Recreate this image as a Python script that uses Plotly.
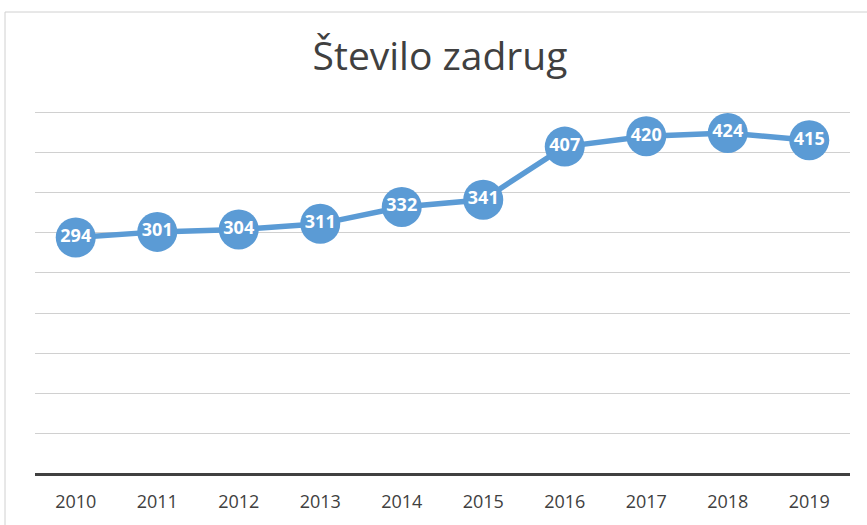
import plotly.graph_objects as go

years = ["2010", "2011", "2012", "2013", "2014", "2015", "2016", "2017", "2018", "2019"]
counts = [294, 301, 304, 311, 332, 341, 407, 420, 424, 415]
title_text = "Število zadrug"

blue = "#5B9BD5"
dark = "#404040"

fig = go.Figure()
fig.add_trace(go.Scatter(
    x=years, y=counts,
    mode="lines+markers+text",
    line=dict(color=blue, width=5.5),
    marker=dict(color=blue, size=40, line=dict(width=0)),
    text=[str(v) for v in counts],
    textposition="middle center",
    textfont=dict(family="Open Sans", size=18, color="white", weight="bold"),
    cliponaxis=False,
    showlegend=False,
    hoverinfo="skip",
))

L, R, T, B = 35, 17, 108, 51
plot_w = 867 - L - R
plot_h = 525 - T - B

fig.update_layout(
    width=867, height=525,
    margin=dict(l=L, r=R, t=T, b=B),
    paper_bgcolor="white", plot_bgcolor="white",
    title=dict(text=title_text, x=440 / 867, xanchor="center", y=1 - 56 / 525, yanchor="middle",
               font=dict(family="Open Sans", size=39, color=dark)),
    xaxis=dict(range=[-0.5, 9.5], showgrid=False, showline=False, ticks="", zeroline=False,
               tickfont=dict(family="Open Sans", size=18, color=dark), ticklabelstandoff=15,
               fixedrange=True),
    yaxis=dict(range=[0, 455], tickvals=[50, 100, 150, 200, 250, 300, 350, 400, 450],
               showticklabels=False, showgrid=True,
               gridcolor="#d0d0d0", gridwidth=1, zeroline=True, zerolinecolor=dark,
               zerolinewidth=3, showline=False, fixedrange=True),
    shapes=[dict(type="rect", xref="paper", yref="paper",
                 x0=(5 - L) / plot_w, x1=(900 - L) / plot_w,
                 y0=(525 - B - 560) / plot_h, y1=(525 - B - 12) / plot_h,
                 line=dict(color="#d0d0d0", width=1), layer="below")],
)

fig.write_html("out.html", config={"displayModeBar": False},
               post_script="document.body.style.margin='0';")
